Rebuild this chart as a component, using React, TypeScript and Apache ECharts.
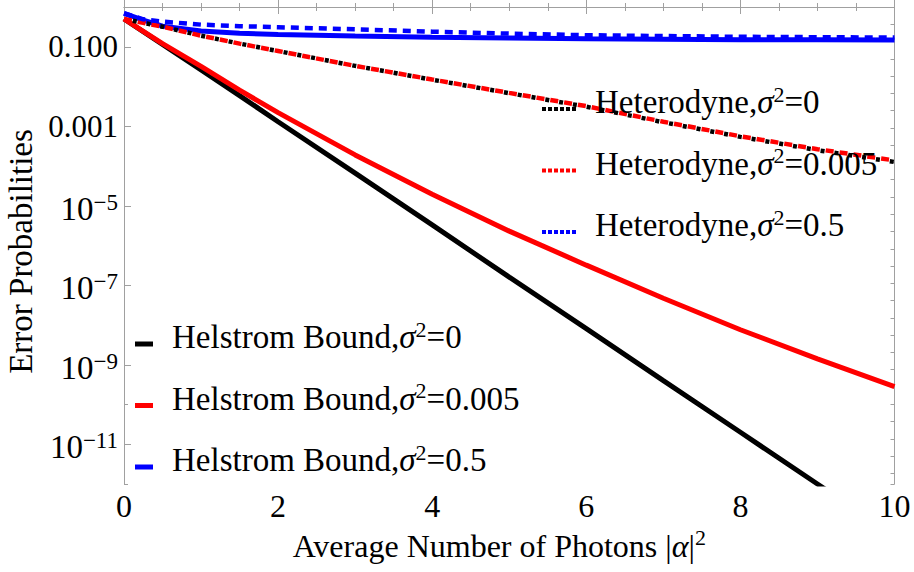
import React, { useEffect, useRef } from 'react';
import * as echarts from 'echarts';

// Average number of photons |α|² at which each curve is sampled
const photons = [0, 0.25, 0.5, 1, 1.5, 2, 3, 4, 5, 6, 7, 8, 9, 10];

// Helstrom bound error probabilities for each phase-noise variance σ²
const helstromSigma0 = [5.0e-1, 2.4e-1, 1.15e-1, 2.6e-2, 5.9e-3, 1.3e-3, 6.6e-5, 3.3e-6, 1.6e-7, 8.1e-9, 4.0e-10, 2.0e-11, 1.0e-12, 5.0e-14];
const helstromSigma0005 = [5.0e-1, 2.45e-1, 1.2e-1, 3.2e-2, 8.1e-3, 2.2e-3, 1.9e-4, 1.95e-5, 2.3e-6, 3.2e-7, 4.7e-8, 7.6e-9, 1.4e-9, 2.8e-10];
const helstromSigma05 = [0.69, 0.47, 0.33, 0.25, 0.22, 0.204, 0.186, 0.174, 0.166, 0.158, 0.155, 0.151, 0.151, 0.148];

// Heterodyne receiver error probabilities
const heterodyneSigma0 = [0.5, 0.4, 0.32, 0.19, 0.12, 0.078, 0.033, 0.0148, 0.0068, 0.0031, 0.00126, 5.4e-4, 2.5e-4, 1.26e-4];
const heterodyneSigma0005 = [0.5, 0.4, 0.32, 0.19, 0.12, 0.078, 0.033, 0.015, 0.0069, 0.0032, 0.0013, 5.6e-4, 2.65e-4, 1.38e-4];
const heterodyneSigma05 = [0.69, 0.49, 0.43, 0.36, 0.33, 0.31, 0.275, 0.24, 0.214, 0.195, 0.186, 0.178, 0.174, 0.17];

const sigmaValues = ['0', '0.005', '0.5'];

// Labelled decades on the log axis and their texts
const yLabelExponents = [-1, -3, -5, -7, -9, -11];
const yLabelTexts = ['0.100', '0.001', '{b|10}{s|\u22125}', '{b|10}{s|\u22127}', '{b|10}{s|\u22129}', '{b|10}{s|\u221211}'];
const yLabelValues = yLabelExponents.map((e) => Math.pow(10, e));

const FONT = '"Liberation Serif", "Times New Roman", Times, serif';
const FRAME = '#a0a0a0';

const helstromNames = sigmaValues.map((s) => `Helstrom Bound,σ²=${s}`);
const heterodyneNames = sigmaValues.map((s) => `Heterodyne,σ²=${s}`);

const legendRich = {
  g: { width: 14, fontSize: 33, lineHeight: 38, padding: [0, 0, 14, 0] },
  t: { fontFamily: FONT, fontSize: 33, color: '#000', lineHeight: 38, padding: [0, 0, 14, 0] },
  i: { fontFamily: FONT, fontSize: 33, fontStyle: 'italic', color: '#000', lineHeight: 38, padding: [0, 0, 14, 0] },
  s: { fontFamily: FONT, fontSize: 22, color: '#000', lineHeight: 22, padding: [0, 0, 30, 0] },
};

const legendText = (name: string) => {
  const [prefix, rest] = name.split(',σ²=');
  return `{g| }{t|${prefix},}{i|σ}{s|2}{t|=${rest}}`;
};

// Row of square dots used as the legend glyph of the heterodyne curves
const DOTTED_ICON = 'path://M0,0h4v4h-4zM6,0h4v4h-4zM12,0h4v4h-4zM18,0h4v4h-4zM24,0h4v4h-4zM30,0h4v4h-4z';

const labelExponent = (value: number) => (value > 0 ? Math.round(Math.log10(value)) : Math.round(value));

const pairs = (ys: number[]) => photons.map((x, i) => [x, ys[i]]);

const lineSeries = (name: string, ys: number[], color: string, lineStyle: any) => ({
  name,
  type: 'line',
  data: pairs(ys),
  symbol: 'none',
  smooth: false,
  xAxisIndex: 0,
  yAxisIndex: 0,
  itemStyle: { color },
  lineStyle: { color, ...lineStyle },
});

const option = {
  animation: false,
  backgroundColor: '#ffffff',
  grid: { left: 124, right: 19.5, top: 7, bottom: 88, containLabel: false, outerBoundsMode: 'none' },
  xAxis: [
    {
      type: 'value',
      position: 'bottom',
      min: 0,
      max: 10,
      interval: 2,
      axisLine: { lineStyle: { color: FRAME, width: 1 } },
      axisTick: { inside: true, length: 7, lineStyle: { color: FRAME } },
      minorTick: { show: true, splitNumber: 4, length: 4, lineStyle: { color: FRAME } },
      splitLine: { show: false },
      axisLabel: { fontFamily: FONT, fontSize: 32, color: '#000', margin: 6 },
      name: '{t|Average Number of Photons |}{i|α}{t||}{s|2}',
      nameLocation: 'middle',
      nameGap: 38,
      nameTextStyle: {
        padding: [0, 20, 0, 0],
        rich: {
          t: { fontFamily: FONT, fontSize: 32, color: '#000', lineHeight: 38 },
          i: { fontFamily: FONT, fontSize: 32, fontStyle: 'italic', color: '#000', lineHeight: 38 },
          s: { fontFamily: FONT, fontSize: 22, color: '#000', lineHeight: 22, padding: [0, 0, 16, 0] },
        },
      },
    },
    {
      type: 'value',
      position: 'top',
      min: 0,
      max: 10,
      interval: 2,
      axisLine: { lineStyle: { color: FRAME, width: 1 } },
      axisTick: { inside: true, length: 7, lineStyle: { color: FRAME } },
      minorTick: { show: true, splitNumber: 4, length: 4, lineStyle: { color: FRAME } },
      splitLine: { show: false },
      axisLabel: { show: false },
    },
  ],
  yAxis: [
    {
      type: 'log',
      logBase: 10,
      position: 'left',
      min: 1e-12,
      max: 1,
      splitNumber: 12,
      axisLine: { show: true, lineStyle: { color: FRAME, width: 1 } },
      axisTick: { show: true, inside: true, length: 4, lineStyle: { color: FRAME } },
      splitLine: { show: false },
      axisLabel: {
        show: true,
        customValues: yLabelValues,
        hideOverlap: false,
        fontFamily: FONT,
        fontSize: 31,
        color: '#000',
        margin: 6,
        formatter: (value: number) => {
          const idx = yLabelExponents.indexOf(labelExponent(value));
          return idx >= 0 ? yLabelTexts[idx] : '';
        },
        rich: {
          b: { fontFamily: FONT, fontSize: 33, color: '#000', lineHeight: 36, padding: [6, 0, 0, 0] },
          s: { fontFamily: FONT, fontSize: 23, color: '#000', lineHeight: 23, padding: [6, 0, 13, 0] },
        },
      },
      name: 'Error Probabilities',
      nameLocation: 'middle',
      nameRotate: 90,
      nameGap: 86,
      nameTextStyle: { fontFamily: FONT, fontSize: 33, color: '#000', padding: [0, 12, 0, 0] },
    },
    {
      type: 'log',
      logBase: 10,
      position: 'left',
      min: 1e-12,
      max: 1,
      axisLine: { show: false },
      axisTick: { show: true, inside: true, length: 7, customValues: yLabelValues, lineStyle: { color: FRAME } },
      axisLabel: { show: false },
      splitLine: { show: false },
    },
    {
      type: 'value',
      position: 'right',
      inverse: true,
      min: 0,
      max: 27.62,
      interval: 1,
      axisLine: { show: true, lineStyle: { color: FRAME, width: 1 } },
      axisTick: { show: true, inside: true, length: 4, lineStyle: { color: FRAME } },
      axisLabel: { show: false },
      splitLine: { show: false },
    },
  ],
  legend: [
    {
      data: heterodyneNames,
      orient: 'vertical',
      left: 542,
      top: 83,
      padding: 0,
      icon: DOTTED_ICON,
      itemWidth: 34,
      itemHeight: 4,
      itemGap: 9.5,
      formatter: legendText,
      textStyle: { rich: legendRich },
      selectedMode: false,
    },
    {
      data: helstromNames,
      orient: 'vertical',
      left: 135,
      top: 318,
      padding: 0,
      icon: 'rect',
      itemWidth: 18,
      itemHeight: 5,
      itemGap: 9.5,
      formatter: legendText,
      textStyle: { rich: legendRich },
      selectedMode: false,
    },
  ],
  series: [
    lineSeries(helstromNames[0], helstromSigma0, '#000000', { width: 5 }),
    lineSeries(helstromNames[1], helstromSigma0005, '#ff0000', { width: 5 }),
    lineSeries(helstromNames[2], helstromSigma05, '#0000ff', { width: 5 }),
    lineSeries(heterodyneNames[0], heterodyneSigma0, '#000000', { width: 4.5, type: [4, 10], dashOffset: 5 }),
    lineSeries(heterodyneNames[1], heterodyneSigma0005, '#ff0000', { width: 4.5, type: [8, 6], dashOffset: 0 }),
    lineSeries(heterodyneNames[2], heterodyneSigma05, '#0000ff', { width: 4.5, type: [8, 6], dashOffset: 0 }),
  ],
};

export default function App() {
  const ref = useRef<HTMLDivElement>(null);
  useEffect(() => {
    const chart = echarts.init(ref.current!, null, { renderer: 'svg' });
    chart.setOption(option as any);
    return () => chart.dispose();
  }, []);
  return (
    <div
      ref={ref}
      style={{ position: 'absolute', left: 0, top: 0, width: 914, height: 572, background: '#ffffff' }}
    />
  );
}
